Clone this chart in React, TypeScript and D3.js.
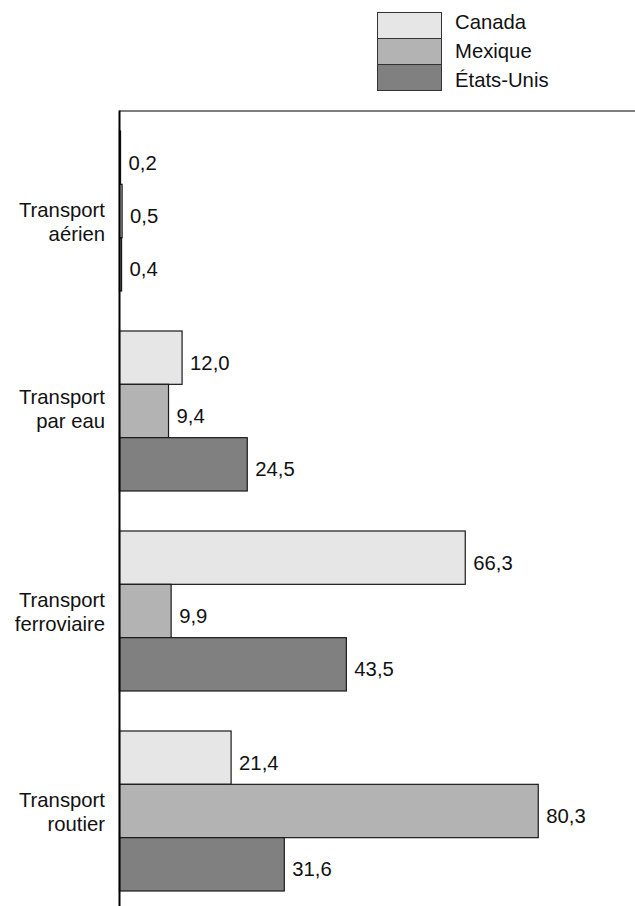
import React from "react";
import * as d3 from "d3";

const categories = ["Transport aérien", "Transport par eau", "Transport ferroviaire", "Transport routier"];
const categoryLines = [["Transport", "aérien"], ["Transport", "par eau"], ["Transport", "ferroviaire"], ["Transport", "routier"]];
const seriesNames = ["Canada", "Mexique", "États-Unis"];
const canada = [0.2, 12.0, 66.3, 21.4];
const mexique = [0.5, 9.4, 9.9, 80.3];
const etatsUnis = [0.4, 24.5, 43.5, 31.6];
const seriesValues = [canada, mexique, etatsUnis];
const colors = ["#e6e6e6", "#b3b3b3", "#808080"];

const W = 635;
const H = 906;
const FONT = "'Liberation Sans', Arial, sans-serif";
const labelShift = [13, 0, 3, 3];

export default function App() {
  const x = d3.scaleLinear().domain([0, 100]).range([119.5, 641]);
  const y0 = d3.scaleBand<string>().domain(categories).range([111, 911]).paddingInner(0.2).paddingOuter(0.1);
  const y1 = d3.scaleBand<string>().domain(seriesNames).range([0, y0.bandwidth()]);
  const fmt = (v: number) => v.toFixed(1).replace(".", ",");

  return (
    <svg width={W} height={H} style={{ position: "absolute", left: 0, top: 0, background: "#fff" }} fontFamily={FONT}>
      {/* legend */}
      {seriesNames.map((s, i) => (
        <g key={s}>
          <rect x={377.5} y={12.5 + i * 26} width={64} height={26} fill={colors[i]} stroke="#333" strokeWidth={1} />
          <text x={455} y={28.5 + i * 29.4} fontSize={20.3} fill="#111">{s}</text>
        </g>
      ))}
      {/* bars */}
      {categories.map((c, ci) => (
        <g key={c}>
          {seriesNames.map((s, si) => {
            const v = seriesValues[si][ci];
            const by = (y0(c) as number) + (y1(s) as number);
            const bh = y1.bandwidth();
            return (
              <g key={s}>
                <rect x={x(0)} y={by} width={Math.max(x(v) - x(0), 0.5)} height={bh} fill={colors[si]} stroke="#1a1a1a" strokeWidth={1.2} />
                <text x={x(v) + 8} y={by + bh / 2 + 12} fontSize={20.3} fill="#111">{fmt(v)}</text>
              </g>
            );
          })}
          {categoryLines[ci].map((line, li) => (
            <text key={li} x={105} y={(y0(c) as number) + y0.bandwidth() / 2 - 7 + labelShift[ci] + li * 24} fontSize={20.3} textAnchor="end" fill="#111">{line}</text>
          ))}
        </g>
      ))}
      {/* frame top and axis */}
      <line x1={x(0)} x2={W} y1={111} y2={111} stroke="#555" strokeWidth={1.3} />
      <line x1={x(0)} x2={x(0)} y1={110.5} y2={H} stroke="#000" strokeWidth={2} />
    </svg>
  );
}
